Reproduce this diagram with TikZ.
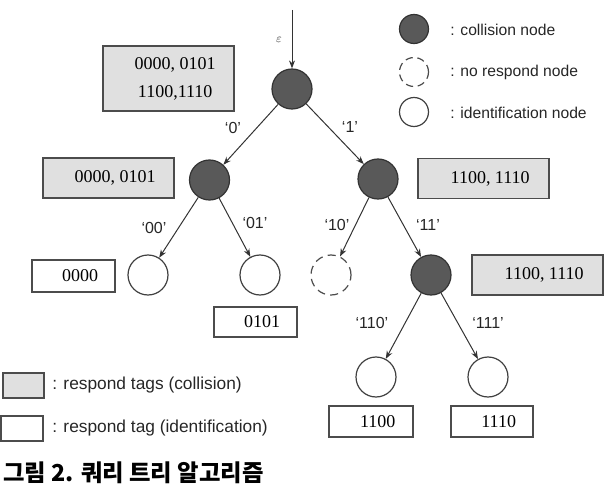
\documentclass[tikz,border=0pt]{standalone}
\usepackage{fontspec}
\setmainfont{Liberation Serif}
\setsansfont{Liberation Sans}
\newfontfamily\krfont{Noto Sans CJK KR}
\usetikzlibrary{arrows.meta}
\newcommand\padl{\hspace*{10pt}}
\begin{document}
\begin{tikzpicture}[x=0.75pt,y=-0.75pt,
  arr/.style={-{Stealth[length=6pt,width=4.5pt]}, draw=black!80, line width=0.75pt},
  coll/.style={circle, draw=black!80, fill=black!65, line width=0.9pt, minimum size=30pt, inner sep=0pt},
  ident/.style={circle, draw=black!75, line width=0.9pt, minimum size=30pt, inner sep=0pt},
  nores/.style={circle, draw=black!70, dash pattern=on 6pt off 4pt, line width=0.9pt, minimum size=30pt, inner sep=0pt},
  gbox/.style={draw=black!70, fill=black!12, line width=1.1pt, inner sep=0pt, align=center, font=\fontsize{13.5}{21}\selectfont},
  wbox/.style={draw=black!70, fill=white, line width=1.1pt, inner sep=0pt, align=center, font=\fontsize{13.5}{21}\selectfont},
  elab/.style={font=\sffamily\fontsize{12}{14}\selectfont, text=black!85},
  leg/.style={font=\sffamily\fontsize{11.75}{14}\selectfont, text=black!85, anchor=west, inner sep=0pt},
  legb/.style={font=\sffamily\fontsize{13}{15}\selectfont, text=black!85, anchor=west, inner sep=0pt},
  lsmall/.style={minimum size=21.75pt},
]
\useasboundingbox (0,0) rectangle (604,485);

% tree nodes
\node[coll] (r) at (292,89) {};
\node[coll] (n0) at (209.5,180) {};
\node[coll] (n1) at (378,179) {};
\node[ident] (n00) at (148,275) {};
\node[ident] (n01) at (260,275) {};
\node[nores] (n10) at (331,275) {};
\node[coll] (n11) at (431,275) {};
\node[ident] (n110) at (376,377) {};
\node[ident] (n111) at (488,377) {};

% entry arrow
\coordinate (top) at (292,10);
\draw[arr] (top) -- (r);
\node[font=\fontsize{9}{9}\selectfont, text=black!80] (eps) at (279,40) {$\varepsilon$};

% edges
\draw[arr] (r) -- (n0);
\draw[arr] (r) -- (n1);
\draw[arr] (n0) -- (n00);
\draw[arr] (n0) -- (n01);
\draw[arr] (n1) -- (n10);
\draw[arr] (n1) -- (n11);
\draw[arr] (n11) -- (n110);
\draw[arr] (n11) -- (n111);

% edge labels
\node[elab] (l0) at (233,128) {`0'};
\node[elab] (l1) at (350,127) {`1'};
\node[elab] (l00) at (154,228) {`00'};
\node[elab] (l01) at (255,223) {`01'};
\node[elab] (l10) at (337,225) {`10'};
\node[elab] (l11) at (428,225) {`11'};
\node[elab] (l110) at (372,323) {`110'};
\node[elab] (l111) at (488,323) {`111'};

% tag boxes
\node[gbox, minimum width=98.25pt, minimum height=48.75pt] (br) at (168.5,78.5) {\padl 0000, 0101\\\padl 1100,1110};
\node[gbox, minimum width=98.25pt, minimum height=30pt] (b0) at (108.5,178) {\padl 0000, 0101};
\node[gbox, minimum width=98.25pt, minimum height=30pt] (b1) at (483.5,178.5) {\padl 1100, 1110};
\node[gbox, minimum width=98.25pt, minimum height=30pt] (b11) at (537.5,275) {\padl 1100, 1110};
\node[wbox, minimum width=62.25pt, minimum height=24pt] (b00) at (73.5,276) {\padl 0000};
\node[wbox, minimum width=62.25pt, minimum height=22.5pt] (b01) at (255.5,322) {\padl 0101};
\node[wbox, minimum width=63pt, minimum height=23.25pt] (b110) at (371,421.5) {\padl 1100};
\node[wbox, minimum width=61.5pt, minimum height=23.25pt] (b111) at (492,421.5) {\padl 1110};

% legend (nodes)
\node[coll, lsmall] (lc) at (414,29) {};
\node[nores, lsmall, dash pattern=on 5.5pt off 3.5pt] (ln) at (414,72) {};
\node[ident, lsmall] (li) at (414,112) {};
\node[leg] (tc) at (450,30) {: collision node};
\node[leg] (tn) at (450,72.5) {: no respond node};
\node[leg] (ti) at (450,113) {: identification node};

% legend (boxes)
\node[gbox, minimum width=30.75pt, minimum height=18.75pt] (lg) at (23.5,385.5) {};
\node[wbox, minimum width=31.5pt, minimum height=18.75pt] (lw) at (22,428.5) {};
\node[legb] (tg) at (52,385.5) {: respond tags (collision)};
\node[legb] (tw) at (52,428.5) {: respond tag (identification)};

% caption
\node[anchor=base west, inner sep=0pt, font=\krfont\bfseries\fontsize{17.5}{20}\selectfont] (cap) at (3,481) {그림 2. 쿼리 트리 알고리즘};
\end{tikzpicture}
\end{document}
